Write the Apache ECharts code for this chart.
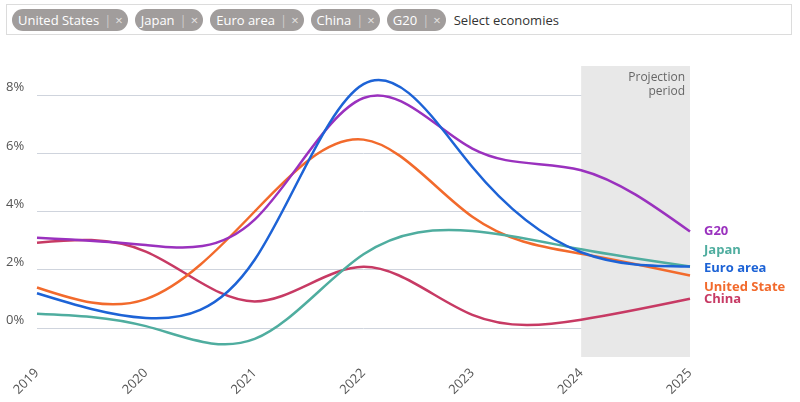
<!DOCTYPE html>
<html>
<head>
<meta charset="utf-8">
<script src="https://cdn.jsdelivr.net/npm/echarts@6/dist/echarts.min.js"></script>
<style>
    body { margin: 0; font-family: 'Open Sans', sans-serif; }
    .wrap { position: relative; width: 800px; height: 402px; }
    #main { position: absolute; left: 0; top: 0; width: 800px; height: 402px; }
    .filter {
        position: absolute; left: 6px; top: 4px; right: 8px; height: 31px;
        border: 1px solid #dcdcdc; box-sizing: border-box;
        display: flex; align-items: center; padding-left: 5px; gap: 7px;
        font-size: 13px; z-index: 2; background: #fff;
    }
    .chip {
        background: #a19d9c; color: #fff; border-radius: 11px; height: 22px;
        display: flex; align-items: center; padding: 0 5px 0 6px; white-space: nowrap;
    }
    .chip .sep { color: #cfcccb; margin: 0 4px 0 5px; }
    .chip .x { color: #e6e4e3; font-size: 13px; }
    .hint { color: #333; margin-left: 1px; }
</style>
</head>
<body>
<div class="wrap">
    <div id="main"></div>
    <div class="filter" id="filter"></div>
</div>
<script>
// 数据
const years = ['2019', '2020', '2021', '2022', '2023', '2024', '2025'];
const g20 = [3.1, 2.85, 3.72, 7.9, 6.16, 5.42, 3.31];
const japan = [0.49, 0.06, -0.38, 2.53, 3.33, 2.7, 2.11];
const euroArea = [1.19, 0.34, 2.34, 8.38, 5.53, 2.6, 2.11];
const unitedStates = [1.39, 0.99, 4.0, 6.47, 3.82, 2.55, 1.8];
const china = [2.93, 2.62, 0.91, 2.1, 0.45, 0.28, 1.0];
const chips = ['United States', 'Japan', 'Euro area', 'China', 'G20'];
const projection = ['2024', '2025'];

// 顶部选择框
const filter = document.getElementById('filter');
chips.forEach(name => {
    const c = document.createElement('div');
    c.className = 'chip';
    c.innerHTML = '<span>' + name + '</span><span class="sep">|</span><span class="x">\u00d7</span>';
    filter.appendChild(c);
});
const hint = document.createElement('div');
hint.className = 'hint';
hint.textContent = 'Select economies';
filter.appendChild(hint);

const font = 'Open Sans';
// 系列配置: name, data, color, label offset
const seriesDefs = [
    { name: 'China', data: china, color: '#c73a64', dy: 0 },
    { name: 'United States', data: unitedStates, color: '#f26a2c', dy: 12 },
    { name: 'Japan', data: japan, color: '#4fad9f', dy: -16 },
    { name: 'G20', data: g20, color: '#9a31be', dy: 0 },
    { name: 'Euro area', data: euroArea, color: '#1d63d6', dy: 2 }
];

// 自然三次样条的控制点 (同 d3 curveNatural)
const controlPoints = (x) => {
    const n = x.length - 1;
    const a = new Array(n), b = new Array(n), r = new Array(n);
    let m;
    a[0] = 0; b[0] = 2; r[0] = x[0] + 2 * x[1];
    for (let i = 1; i < n - 1; ++i) { a[i] = 1; b[i] = 4; r[i] = 4 * x[i] + 2 * x[i + 1]; }
    a[n - 1] = 2; b[n - 1] = 7; r[n - 1] = 8 * x[n - 1] + x[n];
    for (let i = 1; i < n; ++i) { m = a[i] / b[i - 1]; b[i] -= m; r[i] -= m * r[i - 1]; }
    a[n - 1] = r[n - 1] / b[n - 1];
    for (let i = n - 2; i >= 0; --i) a[i] = (r[i] - a[i + 1]) / b[i];
    b[n - 1] = (x[n] + a[n - 1]) / 2;
    for (let i = 0; i < n - 1; ++i) b[i] = 2 * x[i + 1] - a[i + 1];
    return [a, b];
};

const makeRender = (s) => (params, api) => {
    const n = s.data.length;
    const i = params.dataIndex;
    if (i === 0) {
        const pts = s.data.map((v, j) => api.coord([j, v]));
        const xs = pts.map(p => p[0]);
        const ys = pts.map(p => p[1]);
        const px = controlPoints(xs);
        const py = controlPoints(ys);
        let d = 'M' + xs[0] + ' ' + ys[0];
        for (let k = 0; k < n - 1; k++) {
            d += ' C' + px[0][k] + ' ' + py[0][k] + ' ' + px[1][k] + ' ' + py[1][k] + ' ' + xs[k + 1] + ' ' + ys[k + 1];
        }
        return {
            type: 'path',
            shape: { pathData: d },
            style: { stroke: s.color, lineWidth: 2.5, fill: null, lineJoin: 'round' }
        };
    }
    if (i === n - 1) {
        const p = api.coord([i, s.data[i]]);
        return {
            type: 'text',
            x: p[0] + 14,
            y: p[1] + s.dy,
            style: {
                text: s.name,
                fill: s.color,
                font: 'bold 13px "Open Sans"',
                verticalAlign: 'middle',
                align: 'left',
                width: 88,
                overflow: 'truncate',
                ellipsis: ''
            }
        };
    }
    return null;
};

const series = seriesDefs.map((s, i) => ({
    name: s.name,
    type: 'custom',
    clip: false,
    data: s.data.map((v, j) => [j, v]),
    renderItem: makeRender(s),
    z: 3 + i
}));

// 预测区间
series.push({
    type: 'line',
    data: [],
    z: 1,
    silent: true,
    markArea: {
        silent: true,
        itemStyle: { color: '#e8e8e8' },
        label: {
            show: true,
            position: 'insideTopRight',
            formatter: 'Projection\nperiod',
            color: '#666',
            fontFamily: font,
            fontSize: 12,
            lineHeight: 14,
            align: 'right',
            distance: 5
        },
        data: [[{ xAxis: projection[0] }, { xAxis: projection[1] }]]
    }
});

const myChart = echarts.init(document.getElementById('main'));
myChart.setOption({
    animation: false,
    textStyle: { fontFamily: font },
    grid: { left: 37, right: 110, top: 66, bottom: 45 },
    xAxis: {
        type: 'category',
        data: years,
        boundaryGap: false,
        axisLine: { show: false },
        axisTick: { show: false },
        axisLabel: { rotate: 45, color: '#555', fontSize: 13, margin: 14 }
    },
    yAxis: {
        type: 'value',
        min: -1,
        max: 9,
        interval: 1,
        axisLine: { show: false },
        axisTick: { show: false },
        axisLabel: {
            color: '#555',
            fontSize: 13,
            align: 'left',
            margin: 31,
            verticalAlign: 'bottom',
            padding: [0, 0, 1, 0],
            formatter: v => (v % 2 === 0 ? v + '%' : '')
        },
        splitLine: { lineStyle: { color: ['transparent', '#cfd4dd'], width: 1 } }
    },
    series: series
});
</script>
</body>
</html>
